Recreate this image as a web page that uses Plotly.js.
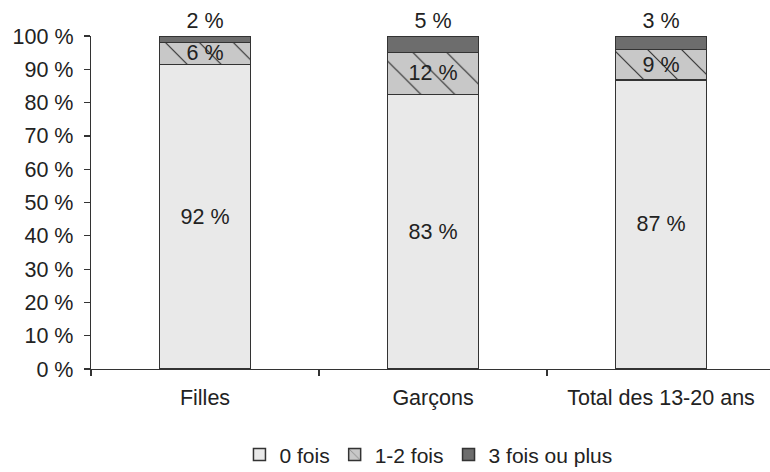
<!DOCTYPE html>
<html>
<head>
<meta charset="utf-8">
<script src="https://cdn.plot.ly/plotly-3.0.1.min.js"></script>
<style>html,body{margin:0;padding:0;background:#fff;}#chart{width:770px;height:472px;}</style>
</head>
<body>
<div id="chart"></div>
<script>
var categories = ["Filles", "Garçons", "Total des 13-20 ans"];
var seriesNames = ["0 fois", "1-2 fois", "3 fois ou plus"];
var zeroFois = [91.5, 82.5, 86.8];
var unDeuxFois = [6.5, 12.6, 9.2];
var troisPlus = [2.0, 4.9, 4.0];
var zeroLabels = ["92 %", "83 %", "87 %"];
var unDeuxLabels = ["6 %", "12 %", "9 %"];
var troisLabels = ["2 %", "5 %", "3 %"];
var yTickVals = [0, 10, 20, 30, 40, 50, 60, 70, 80, 90, 100];
var yTickText = ["0 %", "10 %", "20 %", "30 %", "40 %", "50 %", "60 %", "70 %", "80 %", "90 %", "100 %"];

var FONT = "Liberation Sans, Arial, sans-serif";
var TXT = "#222222";
var FS = 21.5;
var outline = {color: "#333333", width: 1.5};

var traces = [
  {
    type: "bar", name: seriesNames[0], x: categories, y: zeroFois,
    text: zeroLabels, textposition: "inside", insidetextanchor: "middle",
    constraintext: "none", textfont: {family: FONT, size: FS, color: TXT},
    marker: {color: "#e9e9e9", line: outline}, width: 0.4, hoverinfo: "skip"
  },
  {
    type: "bar", name: seriesNames[1], x: categories, y: unDeuxFois,
    text: unDeuxLabels, textposition: "inside", insidetextanchor: "middle",
    constraintext: "none", textfont: {family: FONT, size: FS, color: TXT},
    marker: {color: "#c8c8c8", line: outline,
      pattern: {shape: "\\", bgcolor: "#c8c8c8", fgcolor: "#333333", size: 24, solidity: 0.05}},
    width: 0.4, hoverinfo: "skip"
  },
  {
    type: "bar", name: seriesNames[2], x: categories, y: troisPlus,
    text: troisLabels, textposition: "outside",
    constraintext: "none", textfont: {family: FONT, size: FS, color: TXT},
    marker: {color: "#6d6d6d", line: outline}, width: 0.4, hoverinfo: "skip",
    cliponaxis: false
  }
];

var layout = {
  width: 770, height: 472,
  margin: {l: 91, r: 0, t: 36, b: 103, pad: 0, autoexpand: false},
  paper_bgcolor: "#ffffff", plot_bgcolor: "#ffffff",
  barmode: "stack",
  font: {family: FONT, size: FS, color: TXT},
  showlegend: true,
  legend: {orientation: "h", x: 0.497, xanchor: "center", y: -0.258, yanchor: "middle",
    font: {family: FONT, size: 21, color: TXT}, traceorder: "normal", itemwidth: 30},
  xaxis: {
    type: "category", range: [-0.5, 2.478], tickson: "boundaries", automargin: false,
    ticks: "outside", ticklen: 6, tickcolor: "#333333", tickwidth: 1.2, ticklabelstandoff: 9,
    showline: true, linecolor: "#333333", linewidth: 1.2, showgrid: false, zeroline: false,
    tickfont: {family: FONT, size: FS, color: TXT}, fixedrange: true
  },
  yaxis: {
    range: [0, 100], tickmode: "array", tickvals: yTickVals, ticktext: yTickText, automargin: false,
    ticks: "outside", ticklen: 6, tickcolor: "#333333", tickwidth: 1.2, ticklabelstandoff: 6,
    showline: true, linecolor: "#333333", linewidth: 1.2, showgrid: false, zeroline: false,
    tickfont: {family: FONT, size: FS, color: TXT}, fixedrange: true
  }
};

Plotly.newPlot("chart", traces, layout, {staticPlot: true, displayModeBar: false});
</script>
</body>
</html>
